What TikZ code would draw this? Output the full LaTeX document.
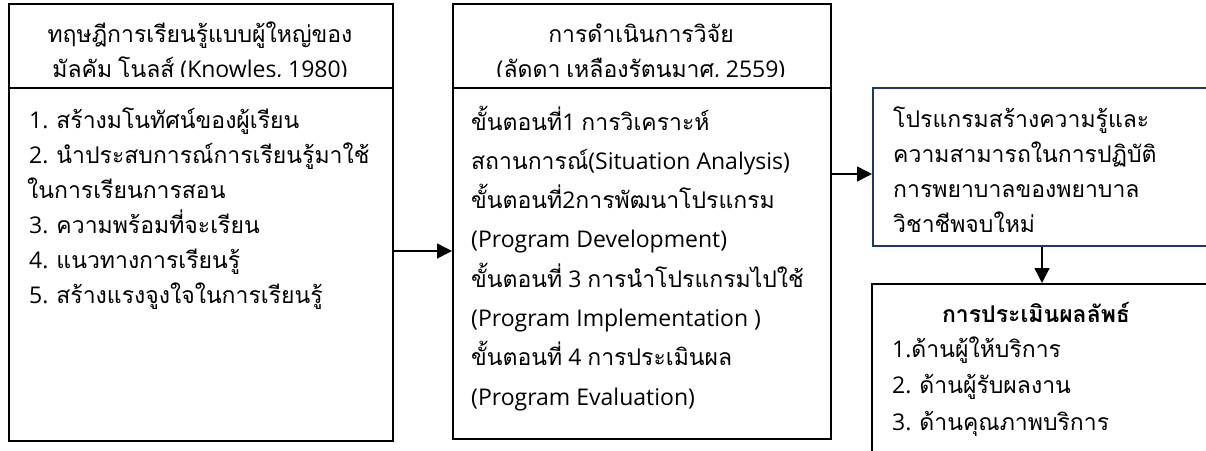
\documentclass[tikz,border=0pt]{standalone}
\usepackage{fontspec}
\newfontfamily\thai[Script=Thai]{Loma}
\newfontfamily\lat{Open Sans}
\XeTeXinterchartokenstate=1
\newXeTeXintercharclass\thcls
\newcount\cc
\cc="0E00
\loop \XeTeXcharclass\cc=\thcls \ifnum\cc<"0E7F \advance\cc by 1 \repeat
\XeTeXinterchartoks 0 \thcls = {\thai}
\XeTeXinterchartoks 4095 \thcls = {\thai}
\XeTeXinterchartoks \thcls 0 = {\lat}
\XeTeXinterchartoks \thcls 4095 = {\lat}
\usetikzlibrary{arrows.meta}
\definecolor{navy}{RGB}{31,56,100}
\begin{document}
\begin{tikzpicture}[x=1pt,y=-1pt,
  box/.style={draw=black, line width=2.2pt, inner sep=0pt, anchor=north west},
  txt/.style={font=\lat\fontsize{23}{35}\selectfont, inner sep=0pt, anchor=base west},
  ctxt/.style={font=\lat\fontsize{23}{35}\selectfont, inner sep=0pt, anchor=base},
  arr/.style={line width=1.5pt, -{Triangle[length=15pt,width=15pt]}}]
\useasboundingbox (0,0) rectangle (1206,450);
\clip (0,0) rectangle (1206,450);
% boxes
\node[box, minimum width=384pt, minimum height=84pt] (LH) at (8,3) {};
\node[box, minimum width=384pt, minimum height=353pt] (L) at (8,87) {};
\node[box, minimum width=378pt, minimum height=84pt] (MH) at (452,3) {};
\node[box, minimum width=378pt, minimum height=351pt] (M) at (452,87) {};
\node[box, draw=navy, minimum width=400pt, minimum height=158pt] (B) at (872,87) {};
\node[box, minimum width=400pt, minimum height=250pt] (E) at (871,283) {};
% header texts (clipped by the divider)
\begin{scope}
\clip (8,3) rectangle (830,76.5);
\node[ctxt] (LHa) at (200,42) {ทฤษฎีการเรียนรู้แบบผู้ใหญ่ของ};
\node[ctxt] (LHb) at (200,77) {มัลคัม โนลส์ (Knowles, 1980)};
\node[ctxt] (MHa) at (641,42) {การดำเนินการวิจัย};
\node[ctxt] (MHb) at (641,77) {(ลัดดา เหลืองรัตนมาศ, 2559)};
\end{scope}
% left body
\foreach \t/\xx [count=\i from 0] in {{1. สร้างมโนทัศน์ของผู้เรียน}/29, {2. นำประสบการณ์การเรียนรู้มาใช้}/29, {ในการเรียนการสอน}/27, {3. ความพร้อมที่จะเรียน}/29, {4. แนวทางการเรียนรู้}/29, {5. สร้างแรงจูงใจในการเรียนรู้}/29}
  \node[txt] (lb\i) at (\xx,{128+35*\i}) {\t};
% middle body
\foreach \t [count=\i from 0] in {{ขั้นตอนที่1 การวิเคราะห์}, {สถานการณ์(Situation Analysis)}, {ขั้นตอนที่2การพัฒนาโปรแกรม}, {(Program Development)}, {ขั้นตอนที่ 3 การนำโปรแกรมไปใช้}, {(Program Implementation )}, {ขั้นตอนที่ 4 การประเมินผล}, {(Program Evaluation)}}
  \node[txt] (mb\i) at (471,{130+39.3*\i}) {\t};
% blue box text
\foreach \t [count=\i from 0] in {{โปรแกรมสร้างความรู้และ}, {ความสามารถในการปฏิบัติ}, {การพยาบาลของพยาบาล}, {วิชาชีพจบใหม่}}
  \node[txt] (bb\i) at (893,{127+35*\i}) {\t};
% evaluation box text
\node[ctxt, font=\lat\bfseries\fontsize{23}{35}\selectfont] (Et) at (1036,322) {การประเมินผลลัพธ์};
\foreach \t [count=\i from 0] in {{1.ด้านผู้ให้บริการ}, {2. ด้านผู้รับผลงาน}, {3. ด้านคุณภาพบริการ}}
  \node[txt] (eb\i) at (892,{357+36.5*\i}) {\t};
% connectors
\coordinate (y1) at (0,251);
\coordinate (y2) at (0,174);
\coordinate (x3) at (1042,0);
\draw[arr] (L.east |- y1) -- (M.west |- y1);
\draw[arr] (M.east |- y2) -- (B.west |- y2);
\draw[arr] (B.south -| x3) -- (E.north -| x3);
\end{tikzpicture}
\end{document}
